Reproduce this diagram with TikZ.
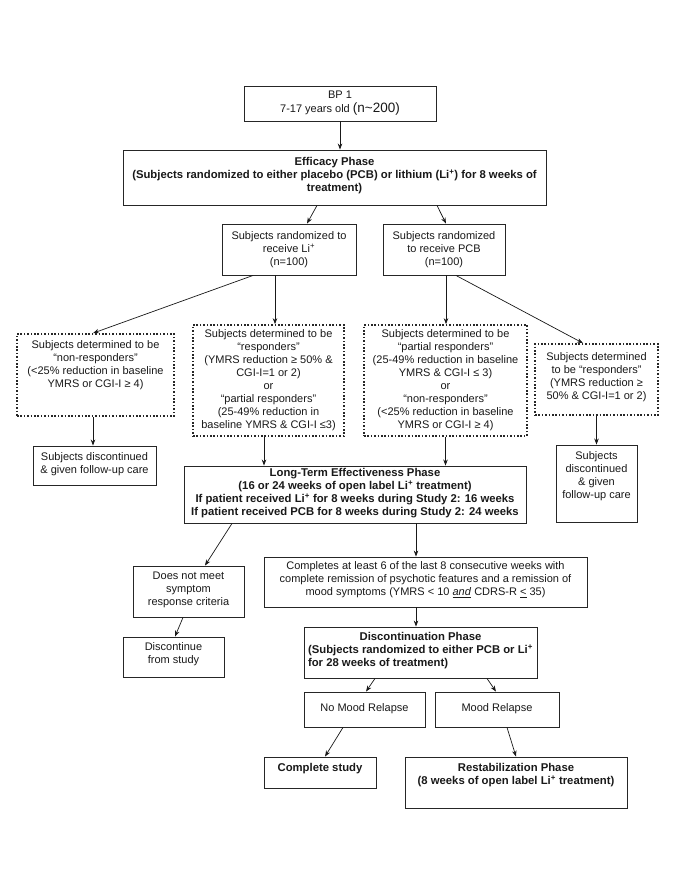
\documentclass[tikz,border=0pt]{standalone}
\usepackage{fontspec}
\setmainfont{Liberation Sans}
\usetikzlibrary{arrows.meta}
\begin{document}
\begin{tikzpicture}[x=1pt,y=-1pt,
  box/.style={draw=black!85, line width=0.9pt, inner sep=0pt, rectangle},
  dbox/.style={draw=black!85, line width=1.7pt, dash pattern=on 1.6pt off 1.8pt, inner sep=0pt, rectangle},
  txt/.style={font=\fontsize{11}{13}\selectfont, align=center, inner sep=0pt, text=black!90},
  btxt/.style={font=\fontsize{11.3}{13}\selectfont\bfseries, align=center, inner sep=0pt, text=black!90},
  arr/.style={draw=black!90, line width=0.7pt, -{Stealth[length=6pt,width=4.5pt]}},
  ]
\useasboundingbox (0,0) rectangle (685,886);
\fill[white] (0,0) rectangle (685,886);

% boxes
\node[box, minimum width=192pt, minimum height=35pt] (bp) at (340,103.5) {};
\node[txt] at (bp.center) {BP 1\\[1pt]7-17 years old {\fontsize{13.5}{15}\selectfont (n\textasciitilde200)}};

\node[box, minimum width=423pt, minimum height=55pt] (eff) at (334.5,177.5) {};
\node[btxt] at ([yshift=1.5pt]eff.center) {Efficacy Phase\\(Subjects randomized to either placebo (PCB) or lithium (Li\textsuperscript{+}) for 8 weeks of\\treatment)};

\node[box, minimum width=134pt, minimum height=51pt] (li) at (289,249.5) {};
\node[txt] at (li.center) {Subjects randomized to\\receive Li\textsuperscript{+}\\(n=100)};

\node[box, minimum width=122pt, minimum height=51pt] (pcb) at (444,249.5) {};
\node[txt] at (pcb.center) {Subjects randomized\\to receive PCB\\(n=100)};

\node[dbox, minimum width=157pt, minimum height=82pt] (nr) at (95.5,375) {};
\node[txt, anchor=north] at ([yshift=-7pt]nr.north) {Subjects determined to be\\“non-responders”\\(<25\% reduction in baseline\\YMRS or CGI-I ≥ 4)};

\node[dbox, minimum width=151pt, minimum height=111pt] (resp) at (268.5,380.5) {};
\node[txt] at (resp.center) {Subjects determined to be\\“responders”\\(YMRS reduction ≥ 50\% \&\\CGI-I=1 or 2)\\or\\“partial responders”\\(25-49\% reduction in\\baseline YMRS \& CGI-I ≤3)};

\node[dbox, minimum width=163pt, minimum height=111pt] (part) at (445.5,380.5) {};
\node[txt] at (part.center) {Subjects determined to be\\“partial responders”\\(25-49\% reduction in baseline\\YMRS \& CGI-I ≤ 3)\\or\\“non-responders”\\(<25\% reduction in baseline\\YMRS or CGI-I ≥ 4)};

\node[dbox, minimum width=123pt, minimum height=71pt] (rr) at (596.5,379.5) {};
\node[txt] at ([yshift=2pt]rr.center) {Subjects determined\\to be “responders”\\(YMRS reduction ≥\\50\% \& CGI-I=1 or 2)};

\node[box, minimum width=123pt, minimum height=39pt] (dl) at (94.5,465.5) {};
\node[txt] at ([yshift=1.5pt]dl.center) {Subjects discontinued\\\& given follow-up care};

\node[box, minimum width=81pt, minimum height=77pt] (dr) at (596.5,483.5) {};
\node[txt, anchor=north] at ([yshift=-7pt]dr.north) {Subjects\\discontinued\\\& given\\follow-up care};

\node[box, minimum width=342pt, minimum height=57pt] (lt) at (355,494.5) {};
\node[btxt] at ([yshift=1.5pt]lt.center) {Long-Term Effectiveness Phase\\(16 or 24 weeks of open label Li\textsuperscript{+} treatment)\\If patient received Li\textsuperscript{+} for 8 weeks during Study 2: 16 weeks\\If patient received PCB for 8 weeks during Study 2: 24 weeks};

\node[box, minimum width=111pt, minimum height=51pt] (dnm) at (188.5,591.5) {};
\node[txt] at ([yshift=1.5pt]dnm.center) {Does not meet\\symptom\\response criteria};

\node[box, minimum width=101pt, minimum height=40pt] (dis) at (173.5,657) {};
\node[txt] at ([yshift=2.5pt]dis.center) {Discontinue\\from study};

\node[box, minimum width=323pt, minimum height=50pt] (cmp) at (425.5,582) {};
\node[txt] at ([yshift=2pt]cmp.center) {Completes at least 6 of the last 8 consecutive weeks with\\complete remission of psychotic features and a remission of\\mood symptoms (YMRS < 10 \underline{\textit{and}} CDRS-R \underline{<} 35)};

\node[box, minimum width=233pt, minimum height=51pt] (dc) at (420.5,652.5) {};
\node[btxt] at ([yshift=1.5pt]dc.center) {\begin{tabular}{@{}l@{}}\multicolumn{1}{@{}c@{}}{Discontinuation Phase}\\(Subjects randomized to either PCB or Li\textsuperscript{+}\\for 28 weeks of treatment)\end{tabular}};

\node[box, minimum width=121pt, minimum height=35pt] (nmr) at (364.5,709.5) {};
\node[txt] at ([yshift=1pt]nmr.center) {No Mood Relapse};

\node[box, minimum width=124pt, minimum height=35pt] (mr) at (497,709.5) {};
\node[txt] at ([yshift=1pt]mr.center) {Mood Relapse};

\node[box, minimum width=112pt, minimum height=31pt] (cs) at (320,772.5) {};
\node[btxt, anchor=north] at ([yshift=-7pt]cs.north) {Complete study};

\node[box, minimum width=222pt, minimum height=51pt] (rs) at (516,782.5) {};
\node[btxt, anchor=north] at ([yshift=-7pt]rs.north) {Restabilization Phase\\(8 weeks of open label Li\textsuperscript{+} treatment)};

% connectors
\draw[arr] (bp.south) -- (bp.south |- eff.north);
\draw[arr] ([xshift=-17.5pt]eff.south) -- ([xshift=18pt]li.north);
\draw[arr] ([xshift=102.5pt]eff.south) -- ([xshift=2pt]pcb.north);
\draw[arr] ([xshift=-36pt]li.south) -- ([xshift=-2.5pt]nr.north);
\draw[arr] ([xshift=-14pt]li.south) -- ([xshift=-14pt]li.south |- resp.north);
\draw[arr] ([xshift=2pt]pcb.south) -- ([xshift=2pt]pcb.south |- part.north);
\draw[arr] ([xshift=12pt]pcb.south) -- ([xshift=-13.5pt]rr.north);
\draw[arr] ([xshift=-2.5pt]nr.south) -- ([xshift=-2.5pt]nr.south |- dl.north);
\draw[arr] (rr.south) -- (rr.south |- dr.north);
\draw[arr] ([xshift=-4.5pt]resp.south) -- ([xshift=-4.5pt]resp.south |- lt.north);
\draw[arr] (part.south) -- (part.south |- lt.north);
\draw[arr] ([xshift=-123pt]lt.south) -- ([xshift=16.5pt]dnm.north);
\draw[arr] ([xshift=61pt]lt.south) -- ([xshift=61pt]lt.south |- cmp.north);
\draw[arr] ([xshift=-5.5pt]dnm.south) -- ([xshift=1.5pt]dis.north);
\draw[arr] ([xshift=-9.5pt]cmp.south) -- ([xshift=-9.5pt]cmp.south |- dc.north);
\draw[arr] ([xshift=-45.5pt]dc.south) -- ([xshift=1.5pt]nmr.north);
\draw[arr] ([xshift=66.5pt]dc.south) -- ([xshift=-1pt]mr.north);
\draw[arr] ([xshift=-21.5pt]nmr.south) -- ([xshift=5pt]cs.north);
\draw[arr] ([xshift=10pt]mr.south) -- (rs.north);
\end{tikzpicture}
\end{document}
